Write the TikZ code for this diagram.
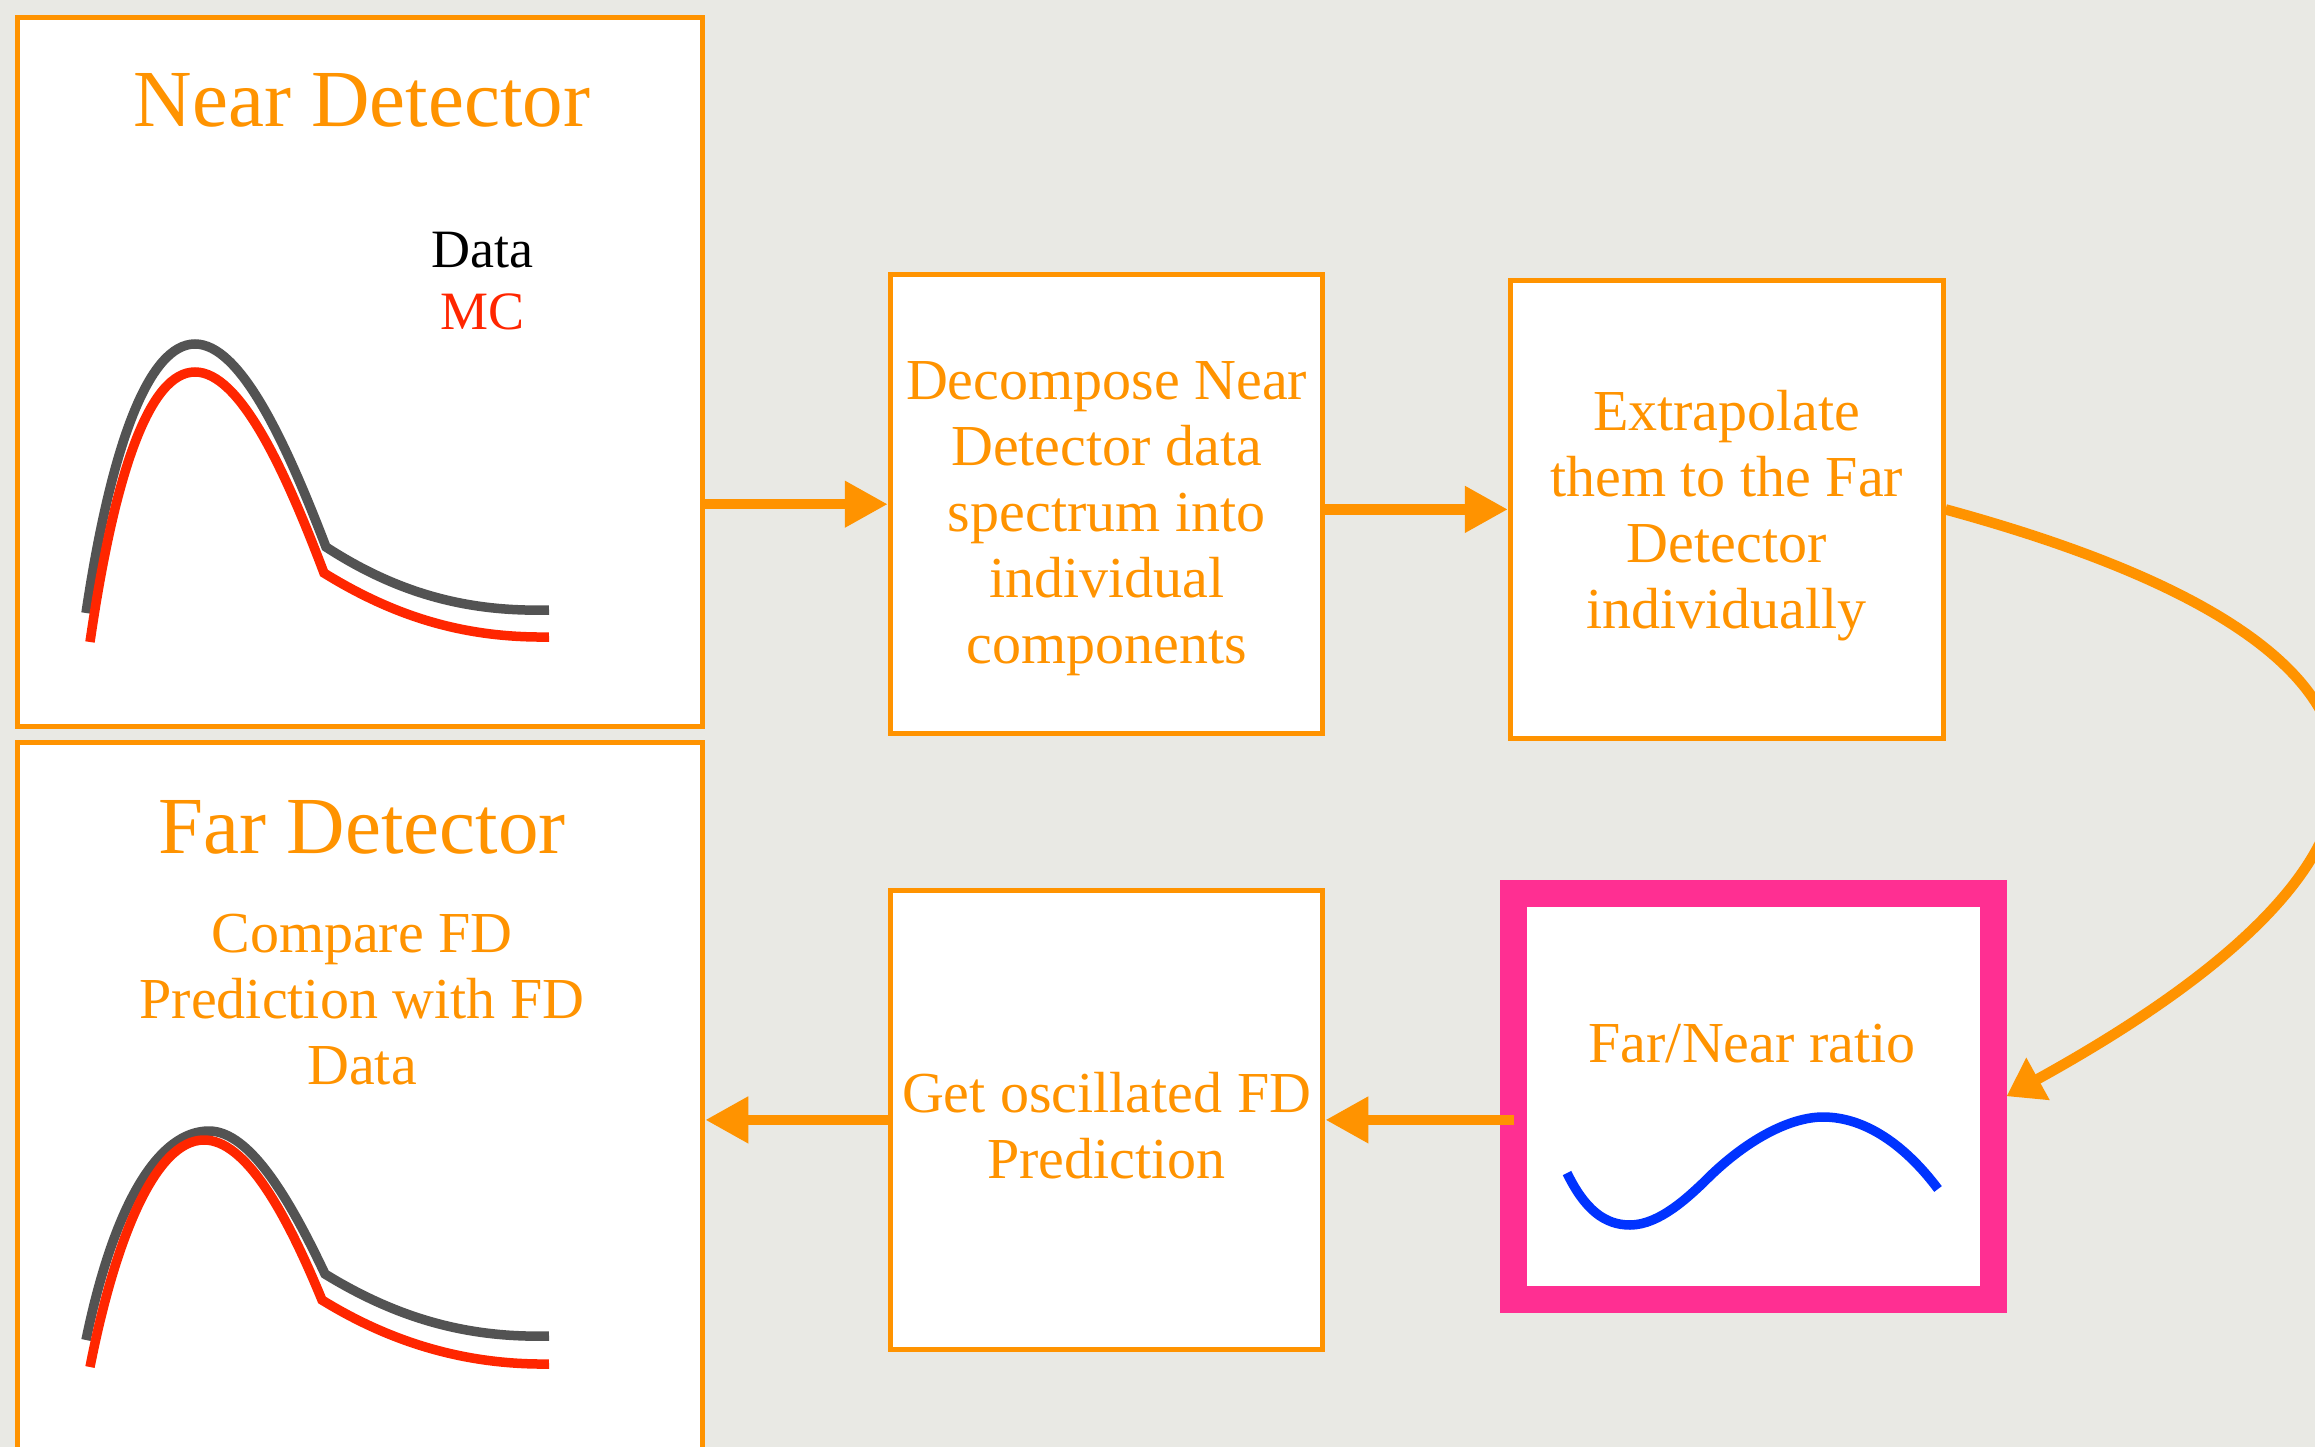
\documentclass[tikz,border=0pt]{standalone}
\usepackage{fontspec}
\setmainfont{Liberation Serif}
\usetikzlibrary{arrows.meta}
\definecolor{bgc}{RGB}{233,233,228}
\definecolor{org}{RGB}{255,147,0}
\definecolor{pnk}{RGB}{255,47,146}
\definecolor{mcred}{RGB}{255,38,0}
\definecolor{datagray}{RGB}{83,83,83}
\definecolor{sineblue}{RGB}{0,51,255}
\begin{document}
\begin{tikzpicture}[x=1pt,y=-1pt,
  box/.style={draw=org, line width=5pt, fill=white, inner sep=0pt},
  titletxt/.style={text=org, font=\fontsize{81}{97}\selectfont, anchor=base, inner sep=0pt},
  bodytxt/.style={text=org, font=\fontsize{58}{66}\selectfont, align=center, inner sep=0pt},
  legtxt/.style={font=\fontsize{54}{64}\selectfont, anchor=base, inner sep=0pt},
  arr/.style={draw=org, line width=10.5pt, -{Triangle[length=43pt,width=44pt]}},
  curvearr/.style={draw=org, line width=10.5pt, -{Triangle[length=36pt,width=46pt]}},
  spec/.style={line width=9.5pt}]
\useasboundingbox (0,0) rectangle (2315,1447);
\clip (0,0) rectangle (2315,1447);
\fill[bgc] (0,0) rectangle (2315,1447);

% boxes
\node[box, minimum width=685pt, minimum height=708.7pt] (near) at (360.25,372) {};
\node[box, minimum width=685pt, minimum height=727pt] (far) at (360.25,1106) {};
\node[box, minimum width=432.6pt, minimum height=459.2pt] (dec) at (1106.6,504.2) {};
\node[box, minimum width=432.6pt, minimum height=457.7pt] (extr) at (1726.7,509.4) {};
\node[box, minimum width=432.6pt, minimum height=459.1pt] (gosc) at (1106.6,1119.9) {};
\node[draw=pnk, line width=27pt, fill=white, inner sep=0pt, minimum width=479.5pt, minimum height=405.5pt] (ratio) at (1753.25,1096.25) {};

% texts
\node[titletxt] (neartitle) at (362,127) {Near Detector};
\node[legtxt, text=black] (datalbl) at (482,268) {Data};
\node[legtxt, text=mcred] (mclbl) at (483,329) {MC};
\node[titletxt] (fartitle) at (362,853) {Far Detector};
\node[bodytxt] (cmptxt) at (362,1000) {Compare FD\\Prediction with FD\\Data};
\node[bodytxt] (dectxt) at (1106.6,518.5) {Decompose Near\\Detector data\\spectrum into\\individual\\components};
\node[bodytxt] (extrtxt) at (1726.7,515.5) {Extrapolate\\them to the Far\\Detector\\individually};
\node[bodytxt] (gosctxt) at (1106.6,1125.5) {Get oscillated FD\\Prediction};
\node[bodytxt, anchor=base] (ratiotxt) at (1752,1062) {Far/Near ratio};

% spectra in near box
\draw[spec, datagray] (86,613) .. controls (112,440) and (150,344) .. (195,344)
  .. controls (240,344) and (285,440) .. (326,547)
  .. controls (400,595) and (470,612) .. (549,610);
\draw[spec, mcred] (90,642) .. controls (115,470) and (150,372) .. (195,372)
  .. controls (240,372) and (285,470) .. (324,573)
  .. controls (400,620) and (470,638) .. (549,637);

% spectra in far box
\draw[spec, datagray] (86,1340) .. controls (115,1200) and (160,1131) .. (209,1131)
  .. controls (250,1131) and (290,1200) .. (325,1274)
  .. controls (400,1320) and (470,1338) .. (549,1336);
\draw[spec, mcred] (90,1367) .. controls (115,1240) and (155,1140) .. (204,1140)
  .. controls (245,1140) and (285,1210) .. (322,1300)
  .. controls (395,1345) and (470,1365) .. (549,1364);

% ratio sine
\draw[spec, sineblue] (1567,1173) .. controls (1585,1210) and (1605,1225) .. (1630,1225)
  .. controls (1660,1225) and (1690,1195) .. (1703,1183)
  .. controls (1745,1140) and (1790,1117) .. (1823,1117)
  .. controls (1865,1117) and (1905,1145) .. (1938,1189);

% connectors
\draw[arr] (near.east |- dec.west) -- (dec.west);
\draw[arr] (dec.east |- extr.west) -- (extr.west);
\draw[curvearr] (extr.east) .. controls (2512,664) and (2395,882) .. (ratio.east);
\draw[arr] ([xshift=14pt]ratio.west |- gosc.east) -- (gosc.east);
\draw[arr] (gosc.west) -- (far.east |- gosc.west);
\end{tikzpicture}
\end{document}
